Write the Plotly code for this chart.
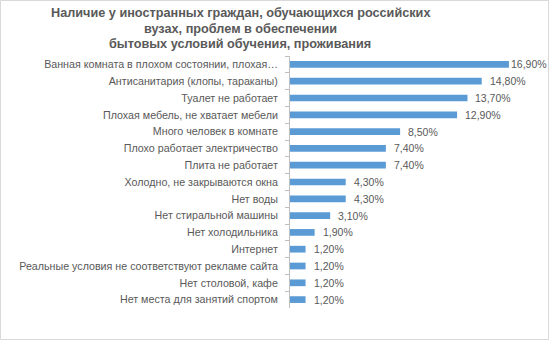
import plotly.graph_objects as go

categories = [
    "Ванная комната в плохом состоянии, плохая…",
    "Антисанитария (клопы, тараканы)",
    "Туалет не работает",
    "Плохая мебель, не хватает мебели",
    "Много человек в комнате",
    "Плохо работает электричество",
    "Плита не работает",
    "Холодно, не закрываются окна",
    "Нет воды",
    "Нет стиральной машины",
    "Нет холодильника",
    "Интернет",
    "Реальные условия не соответствуют рекламе сайта",
    "Нет столовой, кафе",
    "Нет места для занятий спортом",
]
values = [16.9, 14.8, 13.7, 12.9, 8.5, 7.4, 7.4, 4.3, 4.3, 3.1, 1.9, 1.2, 1.2, 1.2, 1.2]
title_lines = [
    "Наличие у иностранных граждан, обучающихся российских",
    "вузах, проблем в обеспечении",
    "бытовых условий обучения, проживания",
]

W, H = 551, 341
GRAY = "#595959"
FONT = "Liberation Sans"

fig = go.Figure()
fig.add_trace(go.Bar(
    x=values, y=categories, orientation="h",
    marker=dict(color="#5B9BD5", line=dict(width=0)),
    width=0.4, hoverinfo="skip",
))

annotations = []
for i, (c, v) in enumerate(zip(categories, values)):
    annotations.append(dict(
        x=v, y=c, xref="x", yref="y",
        text=f"{v:.2f}".replace(".", ",") + "%",
        showarrow=False, xanchor="left", yanchor="middle",
        xshift=0 if i == 0 else 6,
        font=dict(family=FONT, size=10.5, color=GRAY),
    ))
for k, line in enumerate(title_lines):
    annotations.append(dict(
        x=240 / W, y=1 - (13.5 + 15.2 * k) / H, xref="paper", yref="paper",
        text=f"<b>{line}</b>", showarrow=False,
        xanchor="center", yanchor="middle",
        font=dict(family=FONT, size=12.7, color=GRAY),
    ))

fig.update_layout(
    width=W, height=H,
    margin=dict(l=0, r=0, t=0, b=0),
    paper_bgcolor="white", plot_bgcolor="white",
    showlegend=False,
    annotations=annotations,
    shapes=[dict(type="rect", xref="paper", yref="paper",
                 x0=0.5 / W, x1=548.5 / W, y0=1.5 / H, y1=1 - 0.5 / H,
                 line=dict(color="#d9d9d9", width=1), fillcolor="rgba(0,0,0,0)")],
    xaxis=dict(domain=[290 / W, 518 / W], range=[0, 17.6],
               showgrid=False, zeroline=False, showticklabels=False, showline=False),
    yaxis=dict(domain=[33 / H, 285 / H], autorange="reversed",
               categoryorder="array", categoryarray=categories,
               showgrid=False, zeroline=False,
               showline=True, linecolor="#bfbfbf", linewidth=1,
               ticks="outside", ticklen=4, tickcolor="#bfbfbf", tickson="boundaries",
               ticklabelstandoff=9,
               tickfont=dict(family=FONT, size=10.7, color=GRAY)),
)

fig.write_html("out.html")
